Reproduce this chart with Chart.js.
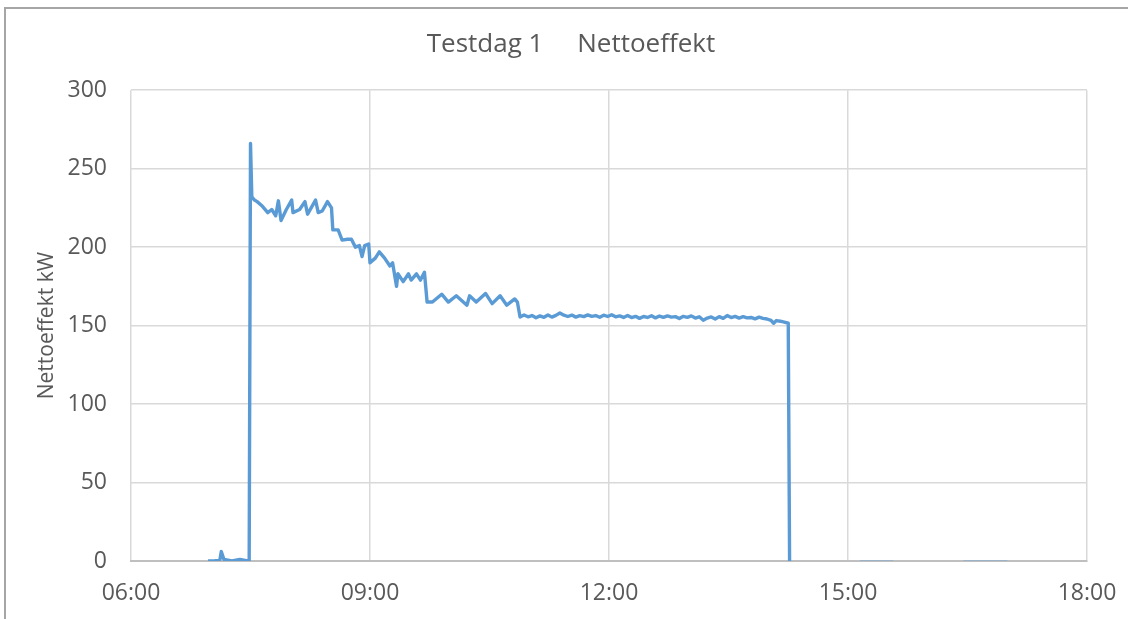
<!DOCTYPE html>
<html>
<head>
<meta charset="utf-8">
<script src="https://cdn.jsdelivr.net/npm/chart.js@4"></script>
<style>
    body { margin: 0; overflow: hidden; background: #fff; }
    #frame { position: absolute; left: 4px; top: 7px; width: 1200px; height: 700px;
             border-left: 2px solid #a6a6a6; border-top: 2px solid #a6a6a6; }
    #wrap { position: absolute; left: 0; top: 0; width: 1128px; height: 619px; }
</style>
</head>
<body>
<div id="frame"></div>
<div id="wrap"><canvas id="effektChart" width="1128" height="619"></canvas></div>
<script>
// tidspunkter (hh:mm) og nettoeffekt i kW
const times = [
    '06:58','07:03','07:07','07:08','07:10','07:16','07:22','07:28','07:29',
    '07:30','07:31','07:33','07:35','07:39','07:43','07:46','07:49','07:51','07:53','07:57',
    '08:01','08:02','08:07','08:11','08:13','08:19','08:21','08:24','08:28','08:31',
    '08:32','08:36','08:39','08:43','08:46','08:49','08:52','08:54','08:56','08:59',
    '09:00','09:04','09:07','09:11','09:15','09:17','09:20','09:21','09:25','09:29',
    '09:31','09:35','09:38','09:41','09:43','09:47','09:54','09:59','10:05','10:13',
    '10:15','10:20','10:27','10:32','10:38','10:43','10:49','10:51','10:53','10:56',
    '10:59','11:02','11:05','11:08','11:11','11:14','11:17','11:20','11:23','11:26',
    '11:29','11:32','11:35','11:38','11:41','11:44','11:47','11:50','11:53','11:56',
    '11:59','12:02','12:05','12:08','12:11','12:14','12:17','12:20','12:23','12:26',
    '12:29','12:32','12:35','12:38','12:41','12:44','12:47','12:50','12:53','12:56',
    '12:59','13:02','13:05','13:08','13:11','13:14','13:17','13:20','13:23','13:26',
    '13:29','13:32','13:35','13:38','13:41','13:44','13:47','13:50','13:53','13:56',
    '13:59','14:02','14:04','14:06','14:09','14:12','14:15','14:16'
];
const effekt = [
    0, 0, 1, 6, 1, 0, 1, 0, 0,
    266, 232, 230, 229, 226, 222, 224, 220, 229.5, 217, 224,
    230, 222, 224, 229, 221, 230, 222, 223, 229, 225,
    211, 211, 204.5, 205, 205, 200, 201, 194, 201, 202,
    190, 193, 197, 193, 188, 190, 175, 183, 178, 183,
    179, 183, 179, 184, 165, 165, 170, 165, 169, 163,
    169, 165, 170.5, 164, 169, 163, 167, 165, 155.5, 156.8,
    155.6, 156.4, 155, 156.2, 155.3, 156.8, 155.4, 156.5, 158, 156.6,
    155.8, 156.7, 155.4, 156.3, 155.7, 156.8, 155.9, 156.4, 155.3, 156.6,
    155.8, 156.9, 155.6, 156.2, 155.2, 156.4, 155.1, 155.9, 154.6, 155.8,
    155.2, 156.3, 154.9, 156.1, 155.3, 156.2, 155.4, 155.7, 154.5, 155.9,
    155.3, 156.2, 154.8, 155.6, 153.4, 154.8, 155.5, 154.2, 155.7, 154.6,
    156.4, 155.1, 155.9, 154.8, 155.7, 154.9, 155.2, 154.3, 155.4, 154.6,
    154.2, 153.3, 151.5, 153.2, 152.8, 152.2, 151.5, 0
];
// svake biter langs null etter kl. 15
const restTimes = ['15:09','15:34', null, '16:27','17:00'];
const restEffekt = [0, 0, null, 0, 0];

const xTicks = ['06:00', '09:00', '12:00', '15:00', '18:00'];
const yTicks = [0, 50, 100, 150, 200, 250, 300];

function toHours(t) {
    let [h, m] = t.split(':');
    return parseInt(h, 10) + parseInt(m, 10) / 60;
}

let mainData = times.map((t, i) => ({ x: toHours(t), y: effekt[i] }));
let restData = restTimes.map((t, i) => ({ x: t ? toHours(t) : 15.8, y: restEffekt[i] }));

const fontFam = "'Open Sans', 'Liberation Sans', sans-serif";
const grey = '#595959';

let ctx = document.getElementById('effektChart').getContext('2d');
new Chart(ctx, {
    type: 'line',
    data: {
        datasets: [{
            data: mainData,
            borderColor: '#5b9bd5',
            borderWidth: 3.4,
            pointRadius: 0,
            tension: 0,
            borderJoinStyle: 'round',
            fill: false
        }, {
            data: restData,
            borderColor: 'rgba(91,155,213,0.35)',
            borderWidth: 2,
            pointRadius: 0,
            spanGaps: false,
            fill: false
        }]
    },
    options: {
        responsive: false,
        animation: false,
        layout: { padding: { left: 14, right: 0, top: 0, bottom: 0 } },
        plugins: {
            legend: { display: false },
            tooltip: { enabled: false },
            title: {
                display: true,
                text: 'Testdag 1     Nettoeffekt',
                color: grey,
                font: { family: fontFam, size: 26, weight: 'normal' },
                padding: { top: 29, bottom: 30 }
            }
        },
        scales: {
            x: {
                type: 'linear',
                min: 6,
                max: 18,
                afterBuildTicks: function(axis) {
                    axis.ticks = xTicks.map(t => ({ value: toHours(t) }));
                },
                afterFit: function(axis) {
                    axis.height = 58;
                    axis.paddingLeft = 0;
                    axis.paddingRight = 0;
                },
                grid: { color: '#d9d9d9', lineWidth: 1.5, drawTicks: false },
                border: { color: '#bfbfbf', width: 2 },
                ticks: {
                    color: grey,
                    font: { family: fontFam, size: 23 },
                    padding: 19,
                    maxRotation: 0,
                    callback: function(value) {
                        let h = Math.round(value);
                        return String(h).padStart(2, '0') + ':00';
                    }
                }
            },
            y: {
                min: 0,
                max: 300,
                afterBuildTicks: function(axis) {
                    axis.ticks = yTicks.map(v => ({ value: v }));
                },
                afterFit: function(axis) { axis.width = 117; },
                grid: { color: '#d9d9d9', lineWidth: 1.5, drawTicks: false },
                border: { display: false },
                title: {
                    display: true,
                    text: 'Nettoeffekt kW',
                    color: grey,
                    font: { family: fontFam, size: 21 },
                    padding: { top: 20, bottom: 0 }
                },
                ticks: {
                    color: grey,
                    font: { family: fontFam, size: 23 },
                    padding: 24
                }
            },
            // tom akse til høyre, bare for å holde plass
            yRight: {
                position: 'right',
                display: true,
                grid: { display: false, drawTicks: false },
                border: { display: false },
                ticks: { display: false },
                afterFit: function(axis) { axis.width = 41; }
            }
        }
    }
});
</script>
</body>
</html>
